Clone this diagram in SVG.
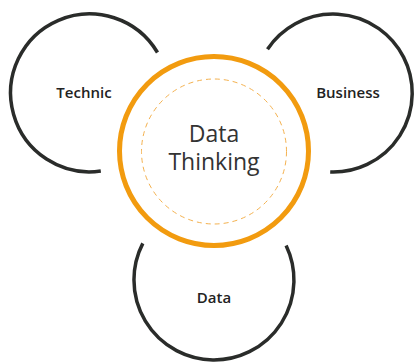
<svg xmlns="http://www.w3.org/2000/svg" width="417" height="363" viewBox="0 0 417 363">
<style>
.arc{fill:none;stroke:#2a2c2a;stroke-width:3.5;stroke-linecap:butt}
.lbl{font-family:"Open Sans","Liberation Sans",sans-serif;font-size:15px;font-weight:600;fill:#222;text-anchor:middle}
.main{font-family:"Open Sans","Liberation Sans",sans-serif;font-size:23px;fill:#333;text-anchor:middle}
</style>
<rect width="417" height="363" fill="#fff"/>
<g id="technic">
<path class="arc" d="M157.5,52.5 A79,79 0 1 0 100.8,171.1"/>
<text class="lbl" x="84" y="97.5">Technic</text>
</g>
<g id="business">
<path class="arc" d="M267.5,49.2 A79,79 0 1 1 330.2,172"/>
<text class="lbl" x="348" y="97.5">Business</text>
</g>
<g id="data">
<path class="arc" d="M142.8,243.4 A80,80 0 1 0 286.1,245.4"/>
<text class="lbl" x="214" y="302.7">Data</text>
</g>
<g id="data-thinking">
<circle cx="214" cy="151" r="94.5" fill="none" stroke="#f29b0f" stroke-width="5"/>
<circle cx="214" cy="151.5" r="72.5" fill="none" stroke="#f4b14e" stroke-width="1" stroke-dasharray="5,4"/>
<text class="main" x="214" y="142">Data</text>
<text class="main" x="214" y="170">Thinking</text>
</g>
<g id="connectors"/>
</svg>
